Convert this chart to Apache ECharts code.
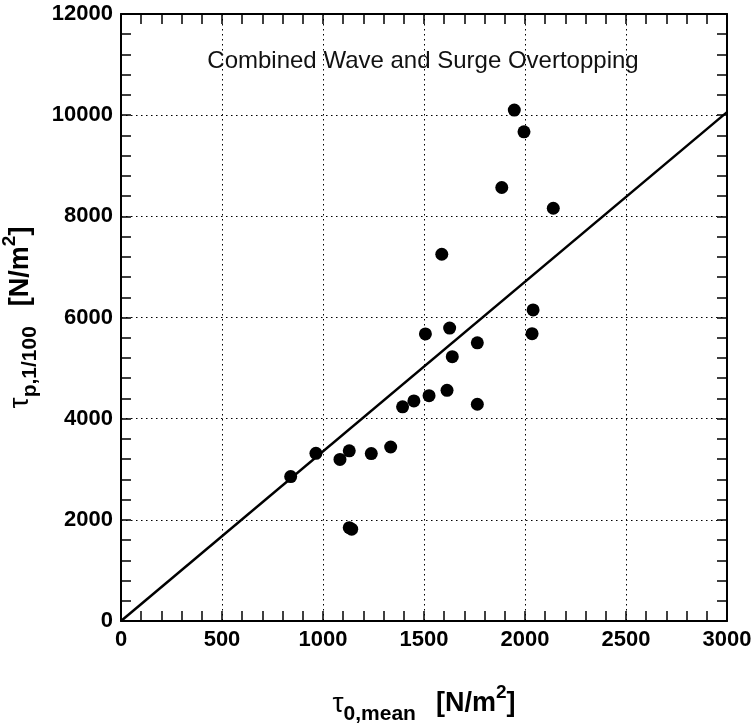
<!DOCTYPE html>
<html>
<head>
<meta charset="utf-8">
<script src="https://cdn.jsdelivr.net/npm/echarts@6/dist/echarts.min.js"></script>
<style>
  html, body { margin: 0; padding: 0; background: #fff; }
  #chart { width: 756px; height: 726px; }
</style>
</head>
<body>
<div id="chart"></div>
<script>
// measured points (tau_0,mean vs tau_p,1/100)
const tauMean = [840, 965, 1084, 1130, 1130, 1142, 1239, 1335, 1394, 1450, 1507, 1525, 1588, 1614,
  1627, 1640, 1764, 1764, 1885, 1947, 1995, 2035, 2040, 2140];
const tauP = [2855, 3315, 3195, 3365, 1845, 1815, 3310, 3440, 4235, 4350, 5675, 4455, 7250, 4560,
  5790, 5225, 5500, 4285, 8570, 10100, 9670, 5680, 6150, 8160];

// fitted line through origin
const fitX = [0, 3000];
const fitY = [0, 10060];

const titleText = 'Combined Wave and Surge Overtopping';

const chart = echarts.init(document.getElementById('chart'));

const font = 'Liberation Sans, Arial, Helvetica, sans-serif';
const tickStyle = { show: true, inside: true, length: 10, lineStyle: { color: '#000', width: 1.5 } };
const minorStyle = { show: true, splitNumber: 5, length: 10, lineStyle: { color: '#000', width: 1.5 } };
const gridDots = { show: true, lineStyle: { color: '#000', width: 1, type: [1.5, 3.5] } };

// rich styles for tau labels with sub/superscripts
const nameRich = {
  t: { fontFamily: font, fontSize: 28, color: '#000', lineHeight: 46 },
  s: { fontFamily: font, fontSize: 21, fontWeight: 'bold', color: '#000', padding: [20, 0, 0, 0], lineHeight: 46 },
  g: { fontSize: 20, lineHeight: 46, width: 20 },
  b: { fontFamily: font, fontSize: 27, fontWeight: 'bold', color: '#000', lineHeight: 46 },
  p: { fontFamily: font, fontSize: 19, fontWeight: 'bold', color: '#000', padding: [0, 0, 22, 0], lineHeight: 46 }
};

const points = tauMean.map((x, i) => [x, tauP[i]]);
const fitLine = fitX.map((x, i) => [x, fitY[i]]);

const option = {
  backgroundColor: '#fff',
  animation: false,
  grid: { left: 121, right: 29, top: 14, bottom: 105, outerBoundsMode: 'none', containLabel: false },
  title: {
    text: titleText,
    left: 418,
    top: 44,
    textAlign: 'center',
    textStyle: { fontFamily: font, fontSize: 24, fontWeight: 'normal', color: '#111' }
  },
  xAxis: [{
    type: 'value',
    min: 0, max: 3000, interval: 500,
    axisLine: { show: true, onZero: false, lineStyle: { color: '#000', width: 2 } },
    axisTick: tickStyle,
    minorTick: minorStyle,
    splitLine: gridDots,
    axisLabel: { color: '#000', fontFamily: font, fontSize: 22, fontWeight: 'bold', margin: 8, formatter: v => String(v) },
    name: '{t|τ}{s|0,mean}{g|}{b|[N/m}{p|2}{b|]}',
    nameLocation: 'middle',
    nameGap: 60,
    nameTextStyle: { rich: nameRich }
  }, {
    type: 'value',
    position: 'top',
    min: 0, max: 3000, interval: 500,
    axisLine: { show: true, onZero: false, lineStyle: { color: '#000', width: 2 } },
    axisTick: tickStyle,
    minorTick: minorStyle,
    splitLine: { show: false },
    axisLabel: { show: false }
  }],
  yAxis: [{
    type: 'value',
    min: 0, max: 12000, interval: 2000,
    axisLine: { show: true, onZero: false, lineStyle: { color: '#000', width: 2 } },
    axisTick: tickStyle,
    minorTick: minorStyle,
    splitLine: gridDots,
    axisLabel: { color: '#000', fontFamily: font, fontSize: 22, fontWeight: 'bold', margin: 8, formatter: v => String(v) },
    name: '{t|τ}{s|p,1/100}{g|}{b|[N/m}{p|2}{b|]}',
    nameLocation: 'middle',
    nameRotate: 90,
    nameGap: 70,
    nameTextStyle: { rich: nameRich }
  }, {
    type: 'value',
    position: 'right',
    min: 0, max: 12000, interval: 2000,
    axisLine: { show: true, onZero: false, lineStyle: { color: '#000', width: 2 } },
    axisTick: tickStyle,
    minorTick: minorStyle,
    splitLine: { show: false },
    axisLabel: { show: false }
  }],
  series: [{
    type: 'line',
    data: fitLine,
    showSymbol: false,
    symbol: 'none',
    lineStyle: { color: '#000', width: 2.5 },
    z: 3
  }, {
    type: 'scatter',
    data: points,
    symbol: 'circle',
    symbolSize: 13,
    itemStyle: { color: '#000', opacity: 1 },
    z: 4
  }]
};

chart.setOption(option);
</script>
</body>
</html>
